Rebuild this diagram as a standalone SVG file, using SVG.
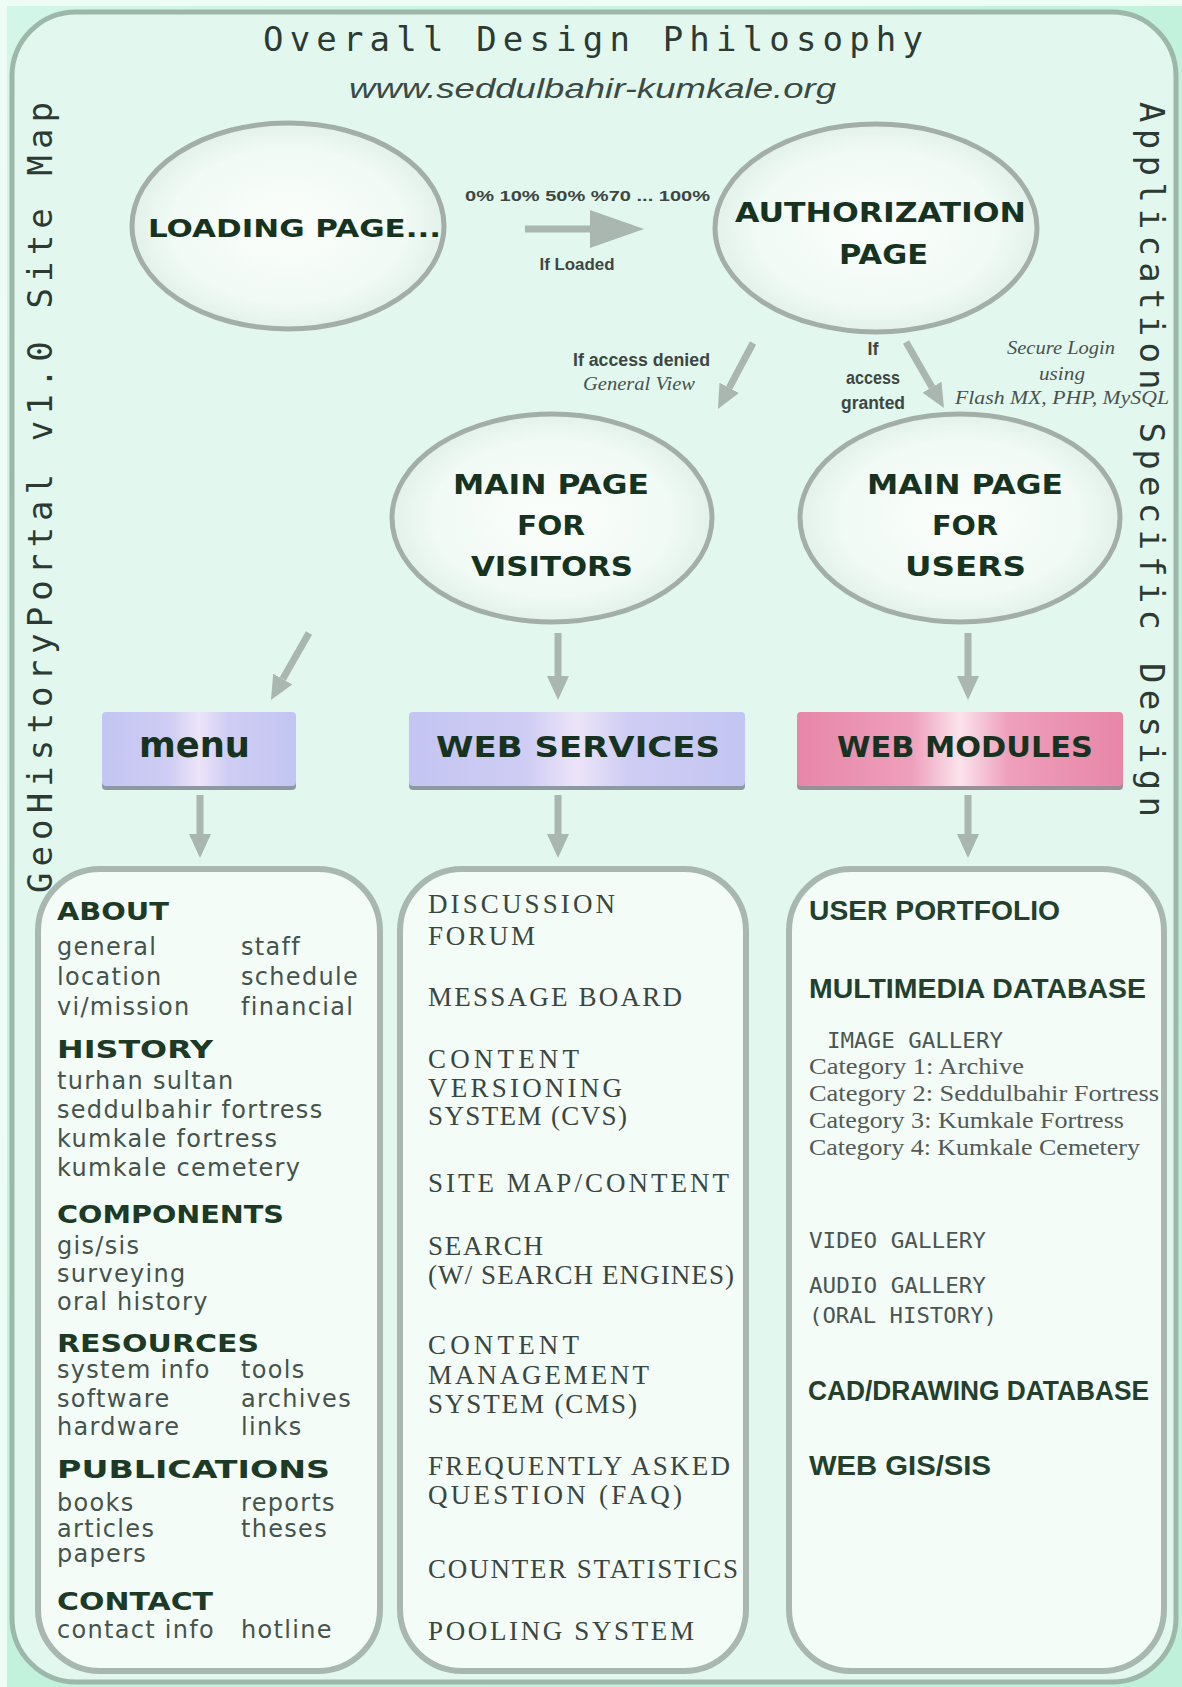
<svg xmlns="http://www.w3.org/2000/svg" width="1182" height="1687" viewBox="0 0 1182 1687">
<style>
.mono{font-family:"DejaVu Sans Mono","Liberation Mono",monospace;fill:#2c3a33}
.lbl{font-family:"DejaVu Sans","Liberation Sans",sans-serif;font-weight:bold;fill:#16331f}
.note{font-family:"Liberation Sans","DejaVu Sans",sans-serif;font-weight:bold;fill:#3e4642}
.ital{font-family:"Liberation Serif","DejaVu Serif",serif;font-style:italic;fill:#4a524e}
.head{font-family:"DejaVu Sans","Liberation Sans",sans-serif;font-weight:bold;font-size:25px;fill:#1c3a25}
.item{font-family:"DejaVu Sans","Liberation Sans",sans-serif;font-size:24px;letter-spacing:1.3px;fill:#45534b}
.serv{font-family:"Liberation Serif","DejaVu Serif",serif;font-size:27px;fill:#3a4640}
.mod{font-family:"Liberation Sans","DejaVu Sans",sans-serif;font-weight:bold;font-size:27px;fill:#23402c}
.pix{font-family:"DejaVu Sans Mono","Liberation Mono",monospace;font-size:21px;fill:#4a5651}
.cat{font-family:"Liberation Serif","DejaVu Serif",serif;font-size:23px;fill:#525a56}
.ell{fill:url(#eg);stroke:#a4aea9;stroke-width:5}
.list{fill:#f3fcf7;stroke:#a8b7af;stroke-width:6}
.shaft{stroke:#aab6b0;stroke-width:7;fill:none}
</style>
<defs>
<radialGradient id="eg" cx="0.5" cy="0.5" r="0.5">
<stop offset="0" stop-color="#fbfefc"/><stop offset="0.75" stop-color="#f1faf5"/><stop offset="1" stop-color="#e2f1ea"/>
</radialGradient>
<linearGradient id="lav" x1="0" y1="0" x2="1" y2="0">
<stop offset="0" stop-color="#c3c5f2"/><stop offset="0.35" stop-color="#cfcdf4"/><stop offset="0.5" stop-color="#ece4f8"/><stop offset="0.65" stop-color="#cfcdf4"/><stop offset="1" stop-color="#c3c5f2"/>
</linearGradient>
<linearGradient id="pink" x1="0" y1="0" x2="1" y2="0">
<stop offset="0" stop-color="#e886a8"/><stop offset="0.35" stop-color="#ee9fbb"/><stop offset="0.5" stop-color="#fbe3ec"/><stop offset="0.65" stop-color="#ee9fbb"/><stop offset="1" stop-color="#e886a8"/>
</linearGradient>
<radialGradient id="bg" cx="0" cy="0" r="1.2">
<stop offset="0" stop-color="#d2f6e7"/><stop offset="1" stop-color="#bff0da"/>
</radialGradient>
<marker id="ah" markerUnits="userSpaceOnUse" markerWidth="24" markerHeight="22" viewBox="0 0 24 22" refX="0" refY="11" orient="auto">
<path d="M0,0 L24,11 L0,22 z" fill="#aab6b0"/>
</marker>
<marker id="bigah" markerUnits="userSpaceOnUse" markerWidth="54" markerHeight="38" viewBox="0 0 54 38" refX="0" refY="19" orient="auto">
<path d="M0,0 L54,19 L0,38 z" fill="#aab6b0"/>
</marker>
</defs>

<rect x="0" y="0" width="1182" height="1687" fill="url(#bg)"/>
<rect x="0" y="0" width="1182" height="6" fill="#eefcf6"/>
<rect x="0" y="0" width="7" height="1687" fill="#eefcf6"/>
<rect x="12" y="12" width="1164" height="1670" rx="64" ry="64" fill="#e2f8ef" stroke="#9db8aa" stroke-width="5"/>

<g id="title">
<text class="mono" x="263" y="51" font-size="34" textLength="660" lengthAdjust="spacing">Overall Design Philosophy</text>
<text x="349" y="98" font-family="Liberation Sans, DejaVu Sans, sans-serif" font-style="italic" font-size="27" fill="#3c4a44" textLength="487" lengthAdjust="spacingAndGlyphs">www.seddulbahir-kumkale.org</text>
</g>
<g id="side-left">
<text class="mono" font-size="34" transform="translate(52,893) rotate(-90)" textLength="791" lengthAdjust="spacing">GeoHistoryPortal v1.0 Site Map</text>
</g>
<g id="side-right">
<text class="mono" font-size="34" transform="translate(1140,102) rotate(90)" textLength="715" lengthAdjust="spacing">Application Specific Design</text>
</g>

<g id="connectors">
<line class="shaft" x1="525" y1="229" x2="590" y2="229" stroke-width="19" marker-end="url(#bigah)"/>
<line class="shaft" x1="753" y1="343" x2="729.2" y2="387.8" marker-end="url(#ah)"/>
<line class="shaft" x1="906" y1="342" x2="932" y2="387.2" marker-end="url(#ah)"/>
<line class="shaft" x1="309" y1="633" x2="282.8" y2="679.1" marker-end="url(#ah)"/>
<line class="shaft" x1="558" y1="633" x2="558" y2="676" marker-end="url(#ah)"/>
<line class="shaft" x1="968" y1="633" x2="968" y2="676" marker-end="url(#ah)"/>
<line class="shaft" x1="200" y1="795" x2="200" y2="834" marker-end="url(#ah)"/>
<line class="shaft" x1="558" y1="795" x2="558" y2="834" marker-end="url(#ah)"/>
<line class="shaft" x1="968" y1="795" x2="968" y2="834" marker-end="url(#ah)"/>
<text class="note" x="465" y="201" font-size="15" textLength="245" lengthAdjust="spacingAndGlyphs">0% 10% 50% %70 ... 100%</text>
<text class="note" x="577" y="270" font-size="16" text-anchor="middle" textLength="75" lengthAdjust="spacingAndGlyphs">If Loaded</text>
<text class="note" x="573" y="366" font-size="18" textLength="137" lengthAdjust="spacingAndGlyphs">If access denied</text>
<text class="ital" x="639" y="390" font-size="18" text-anchor="middle" textLength="112" lengthAdjust="spacingAndGlyphs">General View</text>
<text class="note" x="873" y="355" font-size="18" text-anchor="middle">If</text>
<text class="note" x="873" y="384" font-size="18" text-anchor="middle" textLength="54" lengthAdjust="spacingAndGlyphs">access</text>
<text class="note" x="873" y="409" font-size="18" text-anchor="middle" textLength="64" lengthAdjust="spacingAndGlyphs">granted</text>
<text class="ital" x="1061" y="354" font-size="18" text-anchor="middle" textLength="108" lengthAdjust="spacingAndGlyphs">Secure Login</text>
<text class="ital" x="1062" y="380" font-size="18" text-anchor="middle" textLength="46" lengthAdjust="spacingAndGlyphs">using</text>
<text class="ital" x="1062" y="404" font-size="18" text-anchor="middle" textLength="214" lengthAdjust="spacingAndGlyphs">Flash MX, PHP, MySQL</text>
</g>

<g id="loading-page">
<ellipse class="ell" cx="288" cy="226" rx="156" ry="103"/>
<text class="lbl" x="148" y="237" font-size="25" textLength="293" lengthAdjust="spacingAndGlyphs">LOADING PAGE...</text>
</g>
<g id="authorization-page">
<ellipse class="ell" cx="876" cy="228" rx="161" ry="104"/>
<text class="lbl" x="735" y="222" font-size="27" textLength="291" lengthAdjust="spacingAndGlyphs">AUTHORIZATION</text>
<text class="lbl" x="839" y="264" font-size="27" textLength="89" lengthAdjust="spacingAndGlyphs">PAGE</text>
</g>
<g id="main-visitors">
<ellipse class="ell" cx="552" cy="518" rx="160" ry="104"/>
<text class="lbl" x="453" y="494" font-size="27" textLength="196" lengthAdjust="spacingAndGlyphs">MAIN PAGE</text>
<text class="lbl" x="517" y="535" font-size="27" textLength="68" lengthAdjust="spacingAndGlyphs">FOR</text>
<text class="lbl" x="471" y="576" font-size="27" textLength="162" lengthAdjust="spacingAndGlyphs">VISITORS</text>
</g>
<g id="main-users">
<ellipse class="ell" cx="960" cy="518" rx="160" ry="104"/>
<text class="lbl" x="867" y="494" font-size="27" textLength="196" lengthAdjust="spacingAndGlyphs">MAIN PAGE</text>
<text class="lbl" x="932" y="535" font-size="27" textLength="66" lengthAdjust="spacingAndGlyphs">FOR</text>
<text class="lbl" x="905" y="576" font-size="27" textLength="121" lengthAdjust="spacingAndGlyphs">USERS</text>
</g>

<g id="menu">
<rect x="102" y="716" width="194" height="74" rx="4" fill="#8e98a2"/>
<rect x="102" y="712" width="194" height="74" rx="4" fill="url(#lav)"/>
<text class="lbl" x="139" y="757" font-size="36" textLength="111" lengthAdjust="spacingAndGlyphs">menu</text>
</g>
<g id="web-services">
<rect x="409" y="716" width="336" height="74" rx="4" fill="#8e98a2"/>
<rect x="409" y="712" width="336" height="74" rx="4" fill="url(#lav)"/>
<text class="lbl" x="436" y="757" font-size="29" textLength="284" lengthAdjust="spacingAndGlyphs">WEB SERVICES</text>
</g>
<g id="web-modules">
<rect x="797" y="716" width="326" height="74" rx="4" fill="#9a8e98"/>
<rect x="797" y="712" width="326" height="74" rx="4" fill="url(#pink)"/>
<text class="lbl" x="837" y="757" font-size="28" textLength="256" lengthAdjust="spacingAndGlyphs">WEB MODULES</text>
</g>

<g id="menu-list">
<rect class="list" x="38" y="869" width="342" height="802" rx="62" ry="62"/>
<text class="head" x="57" y="920" textLength="112" lengthAdjust="spacingAndGlyphs">ABOUT</text>
<text class="item" x="57" y="955">general</text><text class="item" x="241" y="955">staff</text>
<text class="item" x="57" y="985">location</text><text class="item" x="241" y="985">schedule</text>
<text class="item" x="57" y="1015">vi/mission</text><text class="item" x="241" y="1015">financial</text>
<text class="head" x="57" y="1058" textLength="156" lengthAdjust="spacingAndGlyphs">HISTORY</text>
<text class="item" x="57" y="1089">turhan sultan</text>
<text class="item" x="57" y="1118">seddulbahir fortress</text>
<text class="item" x="57" y="1147">kumkale fortress</text>
<text class="item" x="57" y="1176">kumkale cemetery</text>
<text class="head" x="57" y="1223" textLength="227" lengthAdjust="spacingAndGlyphs">COMPONENTS</text>
<text class="item" x="57" y="1254">gis/sis</text>
<text class="item" x="57" y="1282">surveying</text>
<text class="item" x="57" y="1310">oral history</text>
<text class="head" x="57" y="1352" textLength="202" lengthAdjust="spacingAndGlyphs">RESOURCES</text>
<text class="item" x="57" y="1378">system info</text><text class="item" x="241" y="1378">tools</text>
<text class="item" x="57" y="1407">software</text><text class="item" x="241" y="1407">archives</text>
<text class="item" x="57" y="1435">hardware</text><text class="item" x="241" y="1435">links</text>
<text class="head" x="57" y="1478" textLength="273" lengthAdjust="spacingAndGlyphs">PUBLICATIONS</text>
<text class="item" x="57" y="1511">books</text><text class="item" x="241" y="1511">reports</text>
<text class="item" x="57" y="1537">articles</text><text class="item" x="241" y="1537">theses</text>
<text class="item" x="57" y="1562">papers</text>
<text class="head" x="57" y="1610" textLength="156" lengthAdjust="spacingAndGlyphs">CONTACT</text>
<text class="item" x="57" y="1638">contact info</text><text class="item" x="241" y="1638">hotline</text>
</g>

<g id="services-list">
<rect class="list" x="400" y="869" width="346" height="802" rx="62" ry="62"/>
<text class="serv" x="428" y="913" textLength="187" lengthAdjust="spacing">DISCUSSION</text>
<text class="serv" x="428" y="945" textLength="107" lengthAdjust="spacing">FORUM</text>
<text class="serv" x="428" y="1006" textLength="254" lengthAdjust="spacing">MESSAGE BOARD</text>
<text class="serv" x="428" y="1068" textLength="151" lengthAdjust="spacing">CONTENT</text>
<text class="serv" x="428" y="1097" textLength="194" lengthAdjust="spacing">VERSIONING</text>
<text class="serv" x="428" y="1125" textLength="199" lengthAdjust="spacing">SYSTEM (CVS)</text>
<text class="serv" x="428" y="1192" textLength="301" lengthAdjust="spacing">SITE MAP/CONTENT</text>
<text class="serv" x="428" y="1255" textLength="115" lengthAdjust="spacing">SEARCH</text>
<text class="serv" x="428" y="1284" textLength="306" lengthAdjust="spacing">(W/ SEARCH ENGINES)</text>
<text class="serv" x="428" y="1354" textLength="151" lengthAdjust="spacing">CONTENT</text>
<text class="serv" x="428" y="1384" textLength="221" lengthAdjust="spacing">MANAGEMENT</text>
<text class="serv" x="428" y="1413" textLength="209" lengthAdjust="spacing">SYSTEM (CMS)</text>
<text class="serv" x="428" y="1475" textLength="302" lengthAdjust="spacing">FREQUENTLY ASKED</text>
<text class="serv" x="428" y="1504" textLength="254" lengthAdjust="spacing">QUESTION (FAQ)</text>
<text class="serv" x="428" y="1578" textLength="310" lengthAdjust="spacing">COUNTER STATISTICS</text>
<text class="serv" x="428" y="1640" textLength="266" lengthAdjust="spacing">POOLING SYSTEM</text>
</g>

<g id="modules-list">
<rect class="list" x="789" y="869" width="375" height="802" rx="62" ry="62"/>
<text class="mod" x="809" y="920" textLength="251" lengthAdjust="spacingAndGlyphs">USER PORTFOLIO</text>
<text class="mod" x="809" y="998" textLength="337" lengthAdjust="spacingAndGlyphs">MULTIMEDIA DATABASE</text>
<text class="pix" x="827" y="1048" textLength="176" lengthAdjust="spacingAndGlyphs">IMAGE GALLERY</text>
<text class="cat" x="809" y="1074" textLength="215" lengthAdjust="spacingAndGlyphs">Category 1: Archive</text>
<text class="cat" x="809" y="1101" textLength="350" lengthAdjust="spacingAndGlyphs">Category 2: Seddulbahir Fortress</text>
<text class="cat" x="809" y="1128" textLength="315" lengthAdjust="spacingAndGlyphs">Category 3: Kumkale Fortress</text>
<text class="cat" x="809" y="1155" textLength="331" lengthAdjust="spacingAndGlyphs">Category 4: Kumkale Cemetery</text>
<text class="pix" x="809" y="1248" textLength="177" lengthAdjust="spacingAndGlyphs">VIDEO GALLERY</text>
<text class="pix" x="809" y="1293" textLength="177" lengthAdjust="spacingAndGlyphs">AUDIO GALLERY</text>
<text class="pix" x="809" y="1323" textLength="188" lengthAdjust="spacingAndGlyphs">(ORAL HISTORY)</text>
<text class="mod" x="808" y="1400" textLength="341" lengthAdjust="spacingAndGlyphs">CAD/DRAWING DATABASE</text>
<text class="mod" x="809" y="1475" textLength="182" lengthAdjust="spacingAndGlyphs">WEB GIS/SIS</text>
</g>
</svg>
